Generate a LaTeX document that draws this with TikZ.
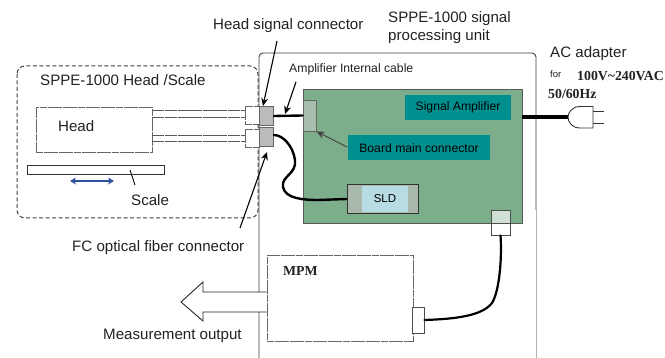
\documentclass[tikz,border=0pt]{standalone}
\usepackage{fontspec}
\setmainfont{Liberation Sans}
\newfontfamily\serifb[Scale=1]{Liberation Serif}
\usetikzlibrary{arrows.meta,shapes.arrows}
\definecolor{board}{HTML}{7DAE8C}
\definecolor{teal}{HTML}{008F8F}
\definecolor{conng}{HTML}{BBBBBB}
\definecolor{txt}{HTML}{222222}
\definecolor{bcfill}{HTML}{A8BFAE}
\definecolor{sldo}{HTML}{A8B8AA}
\definecolor{sldi}{HTML}{B8DCE4}
\definecolor{tcfill}{HTML}{D0E0D4}
\definecolor{bluearrow}{HTML}{3050A0}
\tikzset{
  x=1pt,y=-1pt,
  lbl/.style={inner sep=0pt,anchor=west,text=txt,font=\fontsize{15.1}{17}\selectfont},
  lblbox/.style={fill=teal,inner sep=0pt,text=black,font=\fontsize{12.2}{14}\selectfont},
  dotbox/.style={draw=black!60,line width=.9pt,dash pattern=on 7pt off .6pt,fill=white,inner sep=0pt},
  dotline/.style={draw=black!65,line width=1pt,dash pattern=on 12pt off .6pt},
  leader/.style={draw=black,line width=1.1pt,-{Stealth[length=8pt,width=7pt]}},
  thick cable/.style={draw=black,line width=2.4pt,line cap=round},
  serlbl/.style={inner sep=0pt,anchor=west,text=txt,font=\serifb\bfseries\fontsize{13.8}{15}\selectfont},
}
\newcommand{\bx}[4]{(#1,#2) rectangle (#3,#4)}
\begin{document}
\begin{tikzpicture}
\useasboundingbox (0,0) rectangle (665,358);
\fill[white] (0,0) rectangle (665,358);
% unit
\draw[black!75,line width=.9pt,rounded corners=4pt] (259,358) -- (259,53) -- (536,53) -- (536,210);
\draw[black!30,line width=.9pt] (536,210) -- (536,358);
\node[lbl,font=\fontsize{12.2}{14}\selectfont] (amplbl) at (289,69) {Amplifier Internal cable};
% board
\draw[fill=board,draw=black!65,line width=.8pt] \bx{303}{89}{522}{223};
\coordinate (boardright) at (522,117);
\node[lblbox,minimum width=106pt,minimum height=25pt] (sigamp) at (458,107.5) {Signal Amplifier};
\node[lblbox,minimum width=142pt,minimum height=25pt] (bmc) at (419,148) {Board main connector};
% board connector
\node[draw=black!60,fill=bcfill,line width=.9pt,minimum width=13pt,minimum height=31pt,inner sep=0pt] (bconn) at (309.5,115.5) {};
% SLD
\node[draw=black!80,fill=sldo,line width=.9pt,minimum width=71pt,minimum height=29pt,inner sep=0pt] (sldouter) at (382.5,199) {};
\node[fill=sldi,minimum width=46pt,minimum height=26pt,inner sep=0pt,text=black,font=\fontsize{11.5}{13}\selectfont] (sld) at (385,199) {SLD};
% dashed box
\draw[black!75,line width=1pt,dash pattern=on 4pt off 2.5pt,rounded corners=8pt] (17,66) rectangle (258,218);
\node[lbl] (hslbl) at (40,80) {SPPE-1000 Head /Scale};
% head
\node[dotbox,minimum width=116pt,minimum height=45pt] (head) at (94,129.5) {};
\node[lbl] (headlbl) at (58,126) {Head};
\node[draw=black!80,fill=white,line width=.7pt,minimum width=137pt,minimum height=9pt,inner sep=0pt] (scale) at (95.5,169.5) {};
\coordinate (scalefoot) at (135,185);
\coordinate (scaletop) at (130,170);
\draw[black,line width=.8pt] (scaletop) -- (scalefoot);
\node[lbl] (scalelbl) at (131,200) {Scale};
\coordinate (ba) at (70,181); \coordinate (bb) at (114,181);
\draw[{Stealth[length=6pt,width=7pt]}-{Stealth[length=6pt,width=7pt]},draw=bluearrow,line width=1.1pt] (ba) -- (bb);
% white connectors
\node[dotbox,minimum width=14pt,minimum height=18pt] (w1) at (252,115) {};
\node[dotbox,minimum width=14pt,minimum height=18pt] (w2) at (252,138) {};
\draw[dotline] (head.east |- 0,111) -- (w1.west |- 0,111);
\draw[dotline] (head.east |- 0,118) -- (w1.west |- 0,118);
\draw[dotline] (head.east |- 0,135.5) -- (w2.west |- 0,135.5);
\draw[dotline] (head.east |- 0,142) -- (w2.west |- 0,142);
% gray connectors
\node[draw=black!60,fill=conng,line width=.9pt,minimum width=14pt,minimum height=19pt,inner sep=0pt] (hsc) at (266.5,116) {};
\node[draw=black!60,fill=conng,line width=.9pt,minimum width=14pt,minimum height=19pt,inner sep=0pt] (fc) at (266.5,137) {};
% cables
\draw[thick cable] (hsc.east) -- (bconn.west);
\draw[thick cable] (fc.east |- 0,135) .. controls (283,135) and (293,146) .. (295,160)
  .. controls (297,174) and (281,176) .. (283,187)
  .. controls (285,199) and (305,200) .. (318,200) -- (sldouter.west);
% plug
\coordinate (plugin) at (568,117);
\draw[draw=black,line width=3.4pt] (boardright) -- (plugin);
\draw[fill=white,draw=black!80,line width=.9pt] (593,106.5) -- (580,106.5) .. controls (572,106.5) and (568,113) .. (568,117) .. controls (568,122) and (572,128) .. (580,128) -- (593,128) -- cycle;
\draw[black!80,line width=.9pt] (593,111) -- (604,111) (593,123) -- (604,123);
% MPM
\node[dotbox,minimum width=146pt,minimum height=86pt] (mpm) at (340,298) {};
\node[serlbl] (mpmlbl) at (283,271) {MPM};
\node[draw=black!70,fill=white,line width=.8pt,minimum width=12pt,minimum height=26pt,inner sep=0pt] (mconn) at (418,320) {};
\node[draw=black!70,fill=tcfill,line width=.8pt,minimum width=19pt,minimum height=13pt,inner sep=0pt] (tconn) at (500.5,216.5) {};
\node[draw=black!70,fill=white,line width=.8pt,minimum width=19pt,minimum height=12pt,inner sep=0pt] (bconn2) at (500.5,229) {};
\draw[thick cable,line width=2.2pt] (bconn2.south) .. controls (502,255) and (500,290) .. (492,303) .. controls (482,316) and (455,319) .. (mconn.east);
% output arrow
\draw[fill=white,draw=black!85,line width=.9pt] (mpm.west |- 0,292) -- (203,292) -- (203,282) -- (181,302) -- (203,321) -- (203,312) -- (mpm.west |- 0,312);
% labels and leaders
\node[lbl] (hsclbl) at (213,26) {Head signal connector};
\coordinate (l1) at (277,41);
\draw[leader] (l1) -- (263,106);
\coordinate (l2) at (296,82);
\draw[leader] (l2) -- (285,114);
\coordinate (l3) at (347,147);
\draw[leader,draw=black!75,line width=.9pt] (l3) -- (bconn.south east);
\coordinate (l4) at (240,228);
\draw[leader] (l4) -- (267,152);
\node[lbl] (fclbl) at (72,248) {FC optical fiber connector};
\node[lbl] (mlbl) at (103,336) {Measurement output};
\node[lbl] (u1) at (388,19) {SPPE-1000 signal};
\node[lbl] (u2) at (388,37) {processing unit};
\node[lbl] (ac) at (550,54) {AC adapter};
\node[lbl,font=\fontsize{9.5}{11}\selectfont] (for) at (550,74) {for};
\node[serlbl] (v) at (577,76) {100V\textasciitilde240VAC};
\node[serlbl] (hz) at (548,94) {50/60Hz};
\end{tikzpicture}
\end{document}
